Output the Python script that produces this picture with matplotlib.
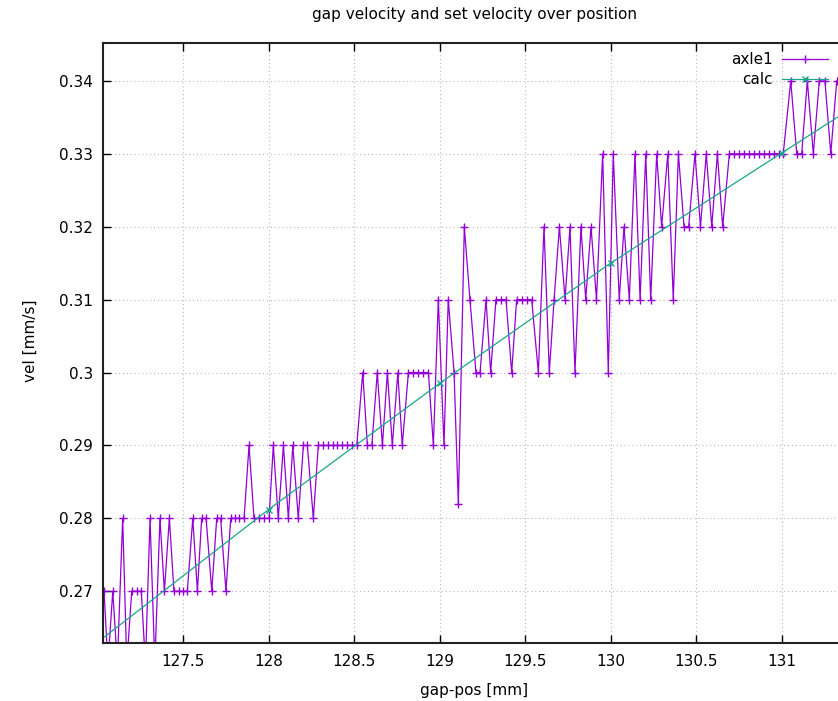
#===============================================================================
# gap velocity vs. set velocity (gnuplot look-alike)
#===============================================================================

"""Plot measured gap velocity of axle1 and the calculated set velocity
over the gap position.
"""

#===============================================================================
# Set up
#===============================================================================
import numpy as np
import matplotlib
matplotlib.use("Agg")
import matplotlib.pyplot as plt
from matplotlib.ticker import FixedLocator, FormatStrFormatter

#===============================================================================
# Data
#===============================================================================
# measured samples of axle1 (gap-pos [mm])
axle1_pos = [
    127.038, 127.061, 127.089, 127.116, 127.147, 127.171, 127.200, 127.229,
    127.256, 127.280, 127.307, 127.335, 127.365, 127.391, 127.420, 127.447,
    127.475, 127.502, 127.525, 127.557, 127.584, 127.609, 127.635, 127.668,
    127.697, 127.720, 127.751, 127.779, 127.804, 127.829, 127.857, 127.886,
    127.915, 127.944, 127.974, 128.003, 128.028, 128.057, 128.087, 128.116,
    128.142, 128.174, 128.204, 128.227, 128.262, 128.291, 128.319, 128.348,
    128.375, 128.402, 128.430, 128.457, 128.487, 128.516, 128.551, 128.578,
    128.604, 128.636, 128.666, 128.695, 128.724, 128.756, 128.782, 128.818,
    128.847, 128.876, 128.905, 128.935, 128.964, 128.993, 129.026, 129.051,
    129.085, 129.110, 129.145, 129.178, 129.213, 129.237, 129.272, 129.299,
    129.330, 129.360, 129.389, 129.422, 129.451, 129.481, 129.510, 129.539,
    129.578, 129.611, 129.642, 129.670, 129.701, 129.734, 129.763, 129.792,
    129.827, 129.855, 129.886, 129.918, 129.954, 129.987, 130.016, 130.051,
    130.079, 130.110, 130.143, 130.173, 130.206, 130.235, 130.270, 130.299,
    130.335, 130.367, 130.397, 130.430, 130.457, 130.494, 130.526, 130.560,
    130.592, 130.625, 130.656, 130.695, 130.724, 130.753, 130.782, 130.812,
    130.841, 130.870, 130.899, 130.929, 130.956, 130.987, 131.010, 131.054,
    131.089, 131.118, 131.151, 131.186, 131.221, 131.254, 131.288, 131.323,
]
# measured velocity of axle1 (vel [mm/s])
axle1_vel = [
    0.27, 0.26, 0.27, 0.26, 0.28, 0.26, 0.27, 0.27,
    0.27, 0.26, 0.28, 0.26, 0.28, 0.27, 0.28, 0.27,
    0.27, 0.27, 0.27, 0.28, 0.27, 0.28, 0.28, 0.27,
    0.28, 0.28, 0.27, 0.28, 0.28, 0.28, 0.28, 0.29,
    0.28, 0.28, 0.28, 0.28, 0.29, 0.28, 0.29, 0.28,
    0.29, 0.28, 0.29, 0.29, 0.28, 0.29, 0.29, 0.29,
    0.29, 0.29, 0.29, 0.29, 0.29, 0.29, 0.30, 0.29,
    0.29, 0.30, 0.29, 0.30, 0.29, 0.30, 0.29, 0.30,
    0.30, 0.30, 0.30, 0.30, 0.29, 0.31, 0.29, 0.31,
    0.30, 0.282, 0.32, 0.31, 0.30, 0.30, 0.31, 0.30,
    0.31, 0.31, 0.31, 0.30, 0.31, 0.31, 0.31, 0.31,
    0.30, 0.32, 0.30, 0.31, 0.32, 0.31, 0.32, 0.30,
    0.32, 0.31, 0.32, 0.31, 0.33, 0.30, 0.33, 0.31,
    0.32, 0.31, 0.33, 0.31, 0.33, 0.31, 0.33, 0.32,
    0.33, 0.31, 0.33, 0.32, 0.32, 0.33, 0.32, 0.33,
    0.32, 0.33, 0.32, 0.33, 0.33, 0.33, 0.33, 0.33,
    0.33, 0.33, 0.33, 0.33, 0.33, 0.33, 0.33, 0.34,
    0.33, 0.33, 0.34, 0.33, 0.34, 0.34, 0.33, 0.34,
]

# calculated set velocity
calc_pos = [127, 128, 129, 130, 131, 132]
calc_vel = [0.2630, 0.2812, 0.2985, 0.3150, 0.3301, 0.3451]

x_ticks = [127.5, 128, 128.5, 129, 129.5, 130, 130.5, 131]
y_ticks = [0.27, 0.28, 0.29, 0.30, 0.31, 0.32, 0.33, 0.34]

#===============================================================================
# Code
#===============================================================================
def plot_vel(outpath="out.png"):
    W, H = 838, 701
    plt.rcParams["font.family"] = ["DejaVu Sans"]
    plt.rcParams["font.size"] = 11

    fig = plt.figure(figsize=(W / 100, H / 100), dpi=100)
    # plot border in pixels: left 102.5, right 847 (outside the image), top 43, bottom 643
    ax = fig.add_axes([102.5 / W, (H - 643) / H, (847 - 102.5) / W, 600 / H])

    ax.plot(axle1_pos, axle1_vel, color="#9400d3", lw=0.9, marker="+",
            ms=6, mew=1.0, label="axle1")
    ax.plot(calc_pos, calc_vel, color="#16a887", lw=0.9, marker="x",
            ms=5, mew=1.0, label="calc")

    ax.set_xlim(127.029, 131.383)
    ax.set_ylim(0.2629, 0.3452)

    ax.xaxis.set_major_locator(FixedLocator(x_ticks))
    ax.yaxis.set_major_locator(FixedLocator(y_ticks))
    ax.xaxis.set_major_formatter(FormatStrFormatter("%g"))
    ax.yaxis.set_major_formatter(FormatStrFormatter("%g"))
    ax.tick_params(direction="in", length=6, width=1, top=True, right=True,
                   colors="black", labelsize=11)
    ax.tick_params(axis="x", pad=8)
    ax.tick_params(axis="y", pad=7)

    ax.grid(True, color="#b8b8b8", lw=0.8, linestyle=(0, (1, 2.5)))
    for sp in ax.spines.values():
        sp.set_linewidth(1.5)
        sp.set_color("#222222")

    fig.text(474.5 / W, 1 - 15 / H, "gap velocity and set velocity over position",
             ha="center", va="center", fontsize=11)
    fig.text(474.5 / W, 1 - 690 / H, "gap-pos [mm]", ha="center", va="center",
             fontsize=11)
    fig.text(30 / W, 1 - 341 / H, "vel [mm/s]", ha="center", va="center",
             rotation=90, fontsize=11)

    ax.legend(loc="upper right", bbox_to_anchor=(828 / W, 1 - 52 / H),
              bbox_transform=fig.transFigure, frameon=False, markerfirst=False,
              numpoints=1, handlelength=3.0, handletextpad=0.6,
              labelspacing=0.32, borderpad=0, borderaxespad=0, fontsize=11)

    fig.savefig(outpath, dpi=100)


#===============================================================================
# Main
#===============================================================================
if __name__ == "__main__":
    plot_vel()
